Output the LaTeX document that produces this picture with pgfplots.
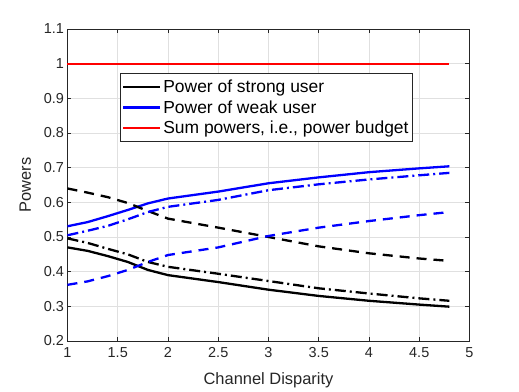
\documentclass[border=0pt]{standalone}
\usepackage{pgfplots}
\pgfplotsset{compat=1.18}
\usepackage{fontspec}
\setmainfont{Liberation Sans}
\definecolor{axgray}{gray}{0.15}
\definecolor{gridgray}{gray}{0.88}
\begin{document}
\begin{tikzpicture}
\begin{axis}[
  scale only axis,
  width=402bp, height=312bp,
  xmin=1, xmax=5, ymin=0.2, ymax=1.1,
  xtick={1,1.5,...,5}, ytick={0.2,0.3,...,1.1},
  /pgf/number format/assume math mode=true,
  /pgf/number format/fixed,
  /pgf/number format/precision=1,
  tick label style={font=\fontsize{14.5}{16}\selectfont, text=axgray},
  xticklabel style={yshift=-3bp},
  label style={font=\fontsize{16.5}{19}\selectfont, text=axgray},
  xlabel={Channel Disparity},
  ylabel={Powers},
  xlabel style={yshift=-8bp},
  ylabel style={yshift=6bp},
  grid=major,
  major grid style={gridgray, line width=0.6bp},
  axis line style={axgray, line width=0.6bp},
  tick style={axgray, line width=0.6bp},
  tick align=inside,
  major tick length=4bp,
  clip=false,
  legend style={at={(rel axis cs:0.13,0.859)}, anchor=north west,
    draw=axgray, line width=0.6bp, fill=white,
    font=\fontsize{17.5}{20}\selectfont, inner xsep=2bp, inner ysep=4.5bp,
    row sep=2.5bp},
  legend cell align=left,
  legend image code/.code={\draw[#1] (0bp,0bp) -- (37bp,0bp);},
]
\addplot[black, line width=2.3bp] coordinates {
(1,0.470) (1.2,0.460) (1.4,0.445) (1.6,0.428) (1.8,0.405) (2,0.390) (2.5,0.370) (3,0.348) (3.5,0.330) (4,0.316) (4.5,0.305) (4.8,0.299)};
\addlegendentry{Power of strong user}
\addplot[blue, line width=2.3bp] coordinates {
(1,0.531) (1.2,0.543) (1.4,0.560) (1.6,0.578) (1.8,0.597) (2,0.611) (2.5,0.631) (3,0.655) (3.5,0.672) (4,0.687) (4.5,0.698) (4.8,0.704)};
\addlegendentry{Power of weak user}
\addplot[red, line width=2.3bp] coordinates {(1,1) (4.8,1)};
\addlegendentry{Sum powers, i.e., power budget}
\addplot[black, line width=2.3bp, dash pattern=on 11bp off 4bp on 2bp off 4bp, forget plot] coordinates {
(1,0.496) (1.2,0.483) (1.4,0.466) (1.6,0.450) (1.8,0.428) (2,0.414) (2.5,0.394) (3,0.373) (3.5,0.352) (4,0.337) (4.5,0.323) (4.8,0.316)};
\addplot[black, line width=2.3bp, dash pattern=on 10bp off 7bp, forget plot] coordinates {
(1,0.640) (1.2,0.628) (1.4,0.615) (1.6,0.598) (1.8,0.575) (2,0.553) (2.5,0.527) (3,0.500) (3.5,0.473) (4,0.453) (4.5,0.438) (4.8,0.431)};
\addplot[blue, line width=2.3bp, dash pattern=on 11bp off 4bp on 2bp off 4bp, forget plot] coordinates {
(1,0.505) (1.2,0.518) (1.4,0.532) (1.6,0.551) (1.8,0.572) (2,0.587) (2.5,0.607) (3,0.635) (3.5,0.652) (4,0.666) (4.5,0.678) (4.8,0.685)};
\addplot[blue, line width=2.3bp, dash pattern=on 10bp off 7bp, forget plot] coordinates {
(1,0.362) (1.2,0.372) (1.4,0.387) (1.6,0.405) (1.8,0.428) (2,0.448) (2.5,0.470) (3,0.503) (3.5,0.527) (4,0.546) (4.5,0.563) (4.8,0.572)};
\coordinate (O) at (rel axis cs:0,0);
\coordinate (T) at (rel axis cs:1,1);
\end{axis}
\path ([shift={(-67.5bp,-48bp)}]O) rectangle ([shift={(49.5bp,29bp)}]T);
\end{tikzpicture}
\end{document}
